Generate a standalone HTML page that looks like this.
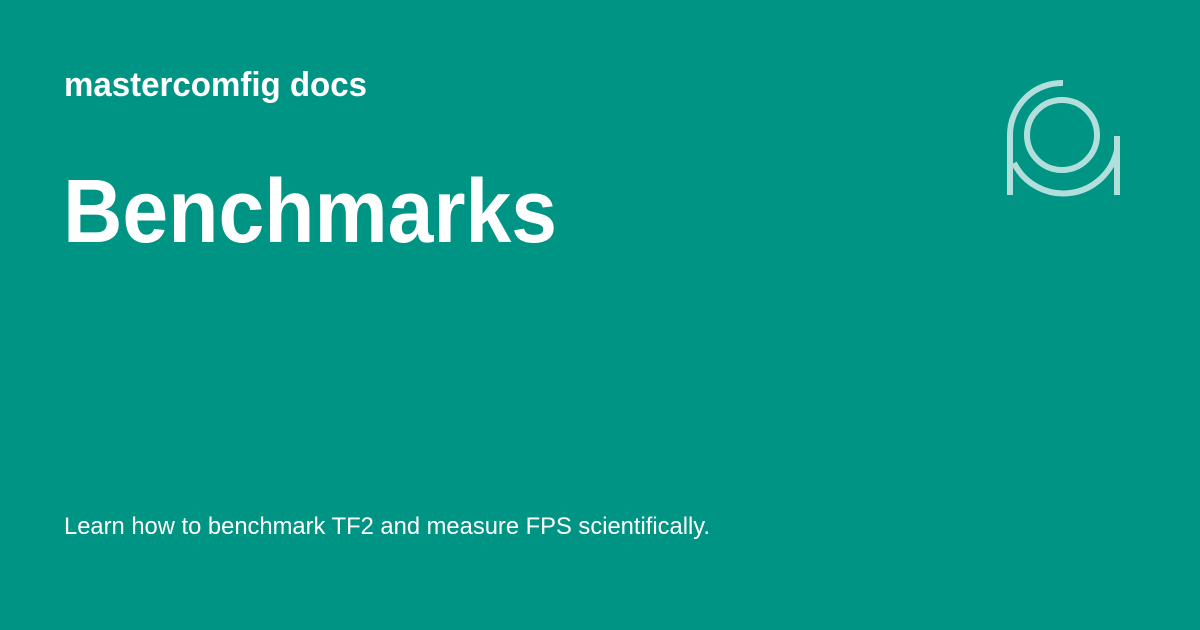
<!DOCTYPE html>
<html><head><meta charset="utf-8"><style>
html,body{margin:0;padding:0;}
body{width:1200px;height:630px;background:#009485;overflow:hidden;}
svg{display:block;}
text{font-family:"Liberation Sans",sans-serif;fill:#fff;}
</style></head><body>
<svg width="1200" height="630" viewBox="0 0 1200 630">
<rect width="1200" height="630" fill="#009485"/>
<text x="64" y="96" font-size="34" font-weight="bold" textLength="303" lengthAdjust="spacingAndGlyphs">mastercomfig docs</text>
<text x="63" y="242" font-size="90" font-weight="bold" textLength="494" lengthAdjust="spacingAndGlyphs">Benchmarks</text>
<text x="64" y="534" font-size="24.5" textLength="646" lengthAdjust="spacingAndGlyphs">Learn how to benchmark TF2 and measure FPS scientifically.</text>
<g fill="none" stroke="#b2dfdb" stroke-width="6">
<circle cx="1062" cy="135" r="35"/>
<path d="M1063 83 A52 52 0 0 0 1010 135 L1010 195"/>
<path d="M1014 163 A55 55 0 0 0 1117 150 L1117 136 M1117 140 L1117 195"/>
</g>
</svg>
</body></html>
